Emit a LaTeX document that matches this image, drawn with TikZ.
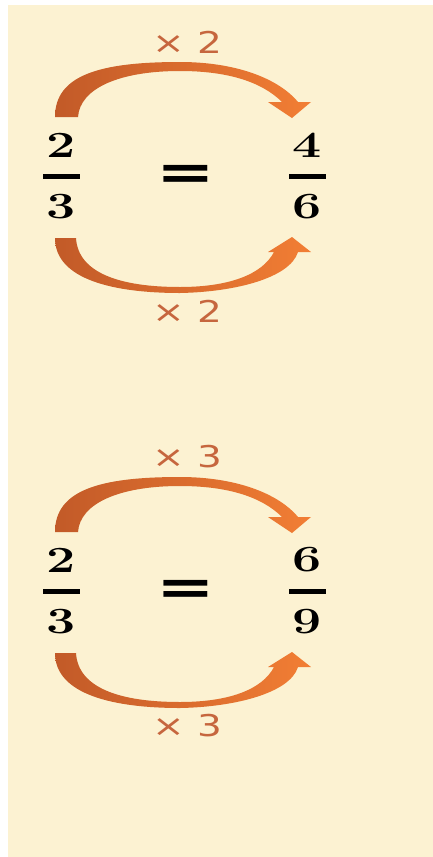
\documentclass[tikz,border=0pt]{standalone}
\usepackage{fontspec}
\newfontfamily\eqfont{DejaVu Sans}
\newfontfamily\factorfont{DejaVu Sans}
\definecolor{bgcream}{RGB}{252,242,210}
\definecolor{arrowdark}{RGB}{194,90,40}
\definecolor{arrowlight}{RGB}{242,126,52}
\definecolor{factororange}{RGB}{198,102,62}
\tikzset{
  overarrow/.pic={
    \shade[arrowfill] (0,0) .. controls (0,-42) and (45,-55) .. (125,-55)
      .. controls (180,-55) and (223,-39) .. (243,-15) -- (256,-15) -- (237,1) -- (213,-15) -- (227,-15)
      .. controls (207,-35) and (173,-46) .. (125,-46) .. controls (65,-46) and (25,-29) .. (23,0) -- cycle;
  },
  underarrow/.pic={
    \shade[arrowfill] (0,0) .. controls (0,42) and (60,55) .. (125,55)
      .. controls (180,54) and (235,40) .. (243,14) -- (256,14) -- (237,-1) -- (213,14) -- (219,14)
      .. controls (207,37) and (173,49) .. (125,49) .. controls (65,49) and (23,35) .. (21,0) -- cycle;
  }
}

\begin{document}
\begin{tikzpicture}[x=1pt, y=-1pt,
    digit/.style={font=\fontsize{37}{37}\selectfont\bfseries, inner sep=0pt, xscale=1.4},
    fracbar/.style={fill=black, minimum width=37pt, minimum height=5pt, inner sep=0pt},
    eqsign/.style={font=\eqfont\bfseries\fontsize{50}{50}\selectfont, inner sep=0pt, xscale=1.4},
    factor/.style={font=\factorfont\fontsize{30}{30}\selectfont, text=factororange, inner sep=0pt, xscale=1.3},
    arrowfill/.style={left color=arrowdark, right color=arrowlight}
  ]
    \useasboundingbox (0,0) rectangle (433,857);
    \fill[bgcream] (8,5) rectangle (433,857);

    % 2/3 = 4/6
    \node[factor] (topfacA) at (187,42) {× 2};
    \pic at (55,117) {overarrow};
    \node[digit] (lnumA) at (61,145) {2};
    \node[fracbar] (lbarA) at (61,176) {};
    \node[digit] (ldenA) at (61,207) {3};
    \node[eqsign] (eqA) at (186,177) {=};
    \node[digit] (rnumA) at (307,145) {4};
    \node[fracbar] (rbarA) at (307,176) {};
    \node[digit] (rdenA) at (307,207) {6};
    \pic at (55,238) {underarrow};
    \node[factor] (botfacA) at (187,311) {× 2};

    % 2/3 = 6/9
    \begin{scope}[shift={(0,415)}]
      \node[factor] (topfacB) at (187,42) {× 3};
      \pic at (55,117) {overarrow};
      \node[digit] (lnumB) at (61,145) {2};
      \node[fracbar] (lbarB) at (61,176) {};
      \node[digit] (ldenB) at (61,207) {3};
      \node[eqsign] (eqB) at (186,177) {=};
      \node[digit] (rnumB) at (307,145) {6};
      \node[fracbar] (rbarB) at (307,176) {};
      \node[digit] (rdenB) at (307,207) {9};
      \pic at (55,238) {underarrow};
      \node[factor] (botfacB) at (187,311) {× 3};
    \end{scope}
  \end{tikzpicture}
\end{document}
